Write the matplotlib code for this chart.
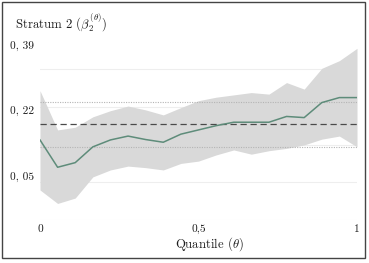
import matplotlib
matplotlib.use("Agg")
import matplotlib.pyplot as plt
import numpy as np
from matplotlib.patches import Rectangle

# quantile grid and estimates for stratum 2
theta = np.linspace(0, 1, 19)
beta = [0.143, 0.072, 0.084, 0.125, 0.143, 0.153, 0.144, 0.137, 0.158, 0.169,
        0.180, 0.189, 0.189, 0.189, 0.204, 0.201, 0.240, 0.253, 0.253]
ci_upper = [0.271, 0.169, 0.176, 0.203, 0.219, 0.231, 0.221, 0.208, 0.227, 0.245,
            0.254, 0.260, 0.266, 0.262, 0.292, 0.275, 0.329, 0.349, 0.381]
ci_lower = [0.013, -0.022, -0.008, 0.047, 0.065, 0.075, 0.071, 0.065, 0.082, 0.088,
            0.104, 0.117, 0.106, 0.115, 0.121, 0.130, 0.145, 0.153, 0.125]

ols_beta = 0.185
ols_ci = [0.1255, 0.241]
grid_vals = [-0.065, 0.034, 0.130, 0.229, 0.327]
yticks = [0.05, 0.22, 0.39]
ytick_labels = ["0, 05", "0, 22", "0, 39"]
xticks = [0, 0.5, 1]
xtick_labels = ["0", "0,5", "1"]

plt.rcParams["font.family"] = "serif"
plt.rcParams["font.serif"] = ["cmr10", "DejaVu Serif"]
plt.rcParams["mathtext.fontset"] = "cm"
plt.rcParams["axes.formatter.use_mathtext"] = True

W, H = 369, 263
fig = plt.figure(figsize=(W / 100, H / 100), dpi=100)
ax = fig.add_axes([40 / W, (H - 220) / H, 317 / W, 180 / H])

for g in grid_vals:
    ax.axhline(g, color="#eeeeee", lw=0.8, zorder=0)

ax.fill_between(theta, ci_lower, ci_upper, color="#d9d9d9", lw=0, zorder=1)
for v in ols_ci:
    ax.axhline(v, color="#b4b4b4", lw=0.8, ls=(0, (1, 1.2)), zorder=2)
ax.axhline(ols_beta, color="#4a4a4a", lw=0.9, ls=(0, (5, 3)), zorder=2)
ax.plot(theta, beta, color="#5e8c7a", lw=1.1, zorder=3)

ax.set_xlim(0, 1)
ax.set_ylim(-0.065, (195 - 40) / 385)
for s in ax.spines.values():
    s.set_visible(False)

ax.set_xticks(xticks)
ax.set_xticklabels(xtick_labels)
ax.set_yticks(yticks)
ax.set_yticklabels(ytick_labels, ha="left")
ax.tick_params(axis="both", length=0, labelsize=8.2, colors="#1e1e1e")
ax.tick_params(axis="y", pad=21.6)
ax.tick_params(axis="x", pad=3)

ax.set_xlabel(r"Quantile ($\theta$)", fontsize=9.2, color="#1e1e1e")
ax.xaxis.set_label_coords(209 / W, 1 - 244 / H, transform=fig.transFigure)
ax.xaxis.label.set_va("center")

fig.text(15 / W, 1 - 22 / H, r"Stratum 2 ($\beta_2^{(\theta)}$)", fontsize=9.2,
         color="#1e1e1e", va="center", ha="left")

fig.patches.append(Rectangle((2 / W, 1 - 258 / H), 363 / W, 256 / H,
                             transform=fig.transFigure, fill=False,
                             edgecolor="#444444", lw=1.0))

fig.savefig("out.png", dpi=100)
